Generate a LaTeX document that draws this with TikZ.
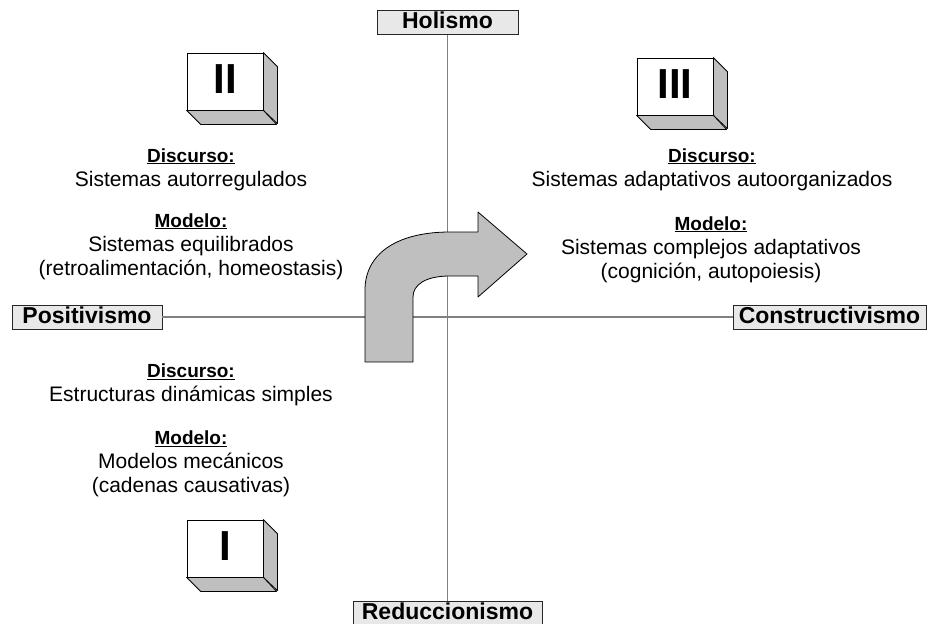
\documentclass[tikz,border=0pt]{standalone}
\usepackage{fontspec}
\setmainfont{Liberation Sans}
\usetikzlibrary{positioning}

\newcommand{\blocktitle}[1]{{\fontsize{19}{24}\selectfont\bfseries\underline{#1}}}
\newcommand{\cubebox}[4]{%
  \node[cubefront] (#1) at (#2,#3) {#4};
  \draw[cubeside] (#1.north east) -- ++(14,14) -- ++(0,57) -- (#1.south east) -- cycle;
  \draw[cubeside] (#1.south west) -- ++(14,14) -- ++(76,0) -- (#1.south east) -- cycle;
}

\begin{document}
\begin{tikzpicture}[x=1pt,y=-1pt,
    axislabel/.style={draw=black!85,fill=black!9,line width=0.8pt,inner sep=0pt,
      minimum height=24pt,text height=17.5pt,text depth=5.5pt,
      font=\fontsize{23}{26}\selectfont\bfseries},
    axisline/.style={draw=black!50,line width=1.4pt},
    cubefront/.style={draw,fill=white,line width=0.8pt,minimum width=76pt,
      minimum height=57pt,inner sep=0pt,text height=30pt,text depth=6pt,
      font=\fontsize{42}{42}\selectfont\bfseries},
    cubeside/.style={draw,fill=black!25,line width=0.8pt,line join=round},
    textblock/.style={align=center,anchor=base,inner sep=0pt,
      font=\fontsize{21}{24}\selectfont},
    bigarrow/.style={draw,fill=black!25,line width=0.8pt,line join=round}]
  \useasboundingbox (0,0) rectangle (927,624);

  % axes
  \node[axislabel,minimum width=141pt] (holismo) at (447.5,22.5) {Holismo};
  \node[axislabel,minimum width=189pt] (reduccion) at (447.5,613) {Reduccionismo};
  \node[axislabel,minimum width=150pt] (positiv) at (87,317) {Positivismo};
  \node[axislabel,minimum width=193pt] (construct) at (829.5,317) {Constructivismo};
  \draw[axisline] (holismo) to (reduccion);
  \draw[axisline] (positiv) to (construct);

  % curved arrow
  \draw[bigarrow] (365,362) -- (365,290)
    .. controls (365,255) and (395,232) .. (450,232) -- (478,232) -- (478,212)
    -- (527,254) -- (478,297) -- (478,276) -- (450,276)
    .. controls (425,276) and (413,285) .. (413,297) -- (413,362) -- cycle;

  % quadrants (base = last line)
  \cubebox{cubeII}{225}{81.5}{II}
  \cubebox{cubeIII}{675}{86.5}{III}
  \cubebox{cubeI}{225}{548.5}{I}

  \node[textblock] (discII) at (191,186) {\blocktitle{Discurso:}\\Sistemas autorregulados};
  \node[textblock] (modII) at (191,275) {\blocktitle{Modelo:}\\Sistemas equilibrados\\(retroalimentación, homeostasis)};
  \node[textblock] (discIII) at (712,186) {\blocktitle{Discurso:}\\Sistemas adaptativos autoorganizados};
  \node[textblock] (modIII) at (711,278) {\blocktitle{Modelo:}\\Sistemas complejos adaptativos\\(cognición, autopoiesis)};
  \node[textblock] (discI) at (191,401.7) {\blocktitle{Discurso:}\\Estructuras dinámicas simples};
  \node[textblock] (modI) at (191,492.7) {\blocktitle{Modelo:}\\Modelos mecánicos\\(cadenas causativas)};
\end{tikzpicture}
\end{document}
